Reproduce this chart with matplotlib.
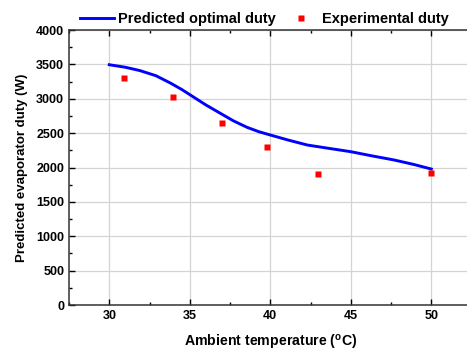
import matplotlib
matplotlib.use('Agg')
import matplotlib.pyplot as plt
import numpy as np

plt.rcParams['font.family'] = ['Liberation Sans', 'DejaVu Sans']
plt.rcParams['font.weight'] = 'bold'

# predicted curve
pred_temp = [30.0, 31.0, 31.9, 32.9, 33.8, 34.5, 35.2, 36.0, 36.9, 37.7, 38.55, 39.3,
             40.0, 41.1, 42.3, 43.6, 45.0, 46.3, 47.7, 48.9, 50.0]
pred_duty = [3495, 3458, 3410, 3335, 3228, 3135, 3030, 2910, 2788, 2680, 2585, 2520,
             2473, 2400, 2327, 2280, 2230, 2170, 2109, 2045, 1978]

# experimental points
exp_temp = [30.9, 33.95, 37.0, 39.8, 42.96, 50.0]
exp_duty = [3302, 3030, 2652, 2294, 1901, 1916]

fig = plt.figure(figsize=(4.67, 3.51), dpi=100)
ax = fig.add_axes([0.1478, 0.131, 0.862, 0.7835])

ax.plot(pred_temp, pred_duty, color='#0000ff', lw=2.1, label='Predicted optimal duty')
ax.plot(exp_temp, exp_duty, 's', color='#ff0000', ms=4.2, mec='none',
        label='Experimental duty')

ax.set_xlim(27.5, 52.5)
ax.set_ylim(0, 4000)
ax.set_xticks([30, 35, 40, 45, 50])
ax.set_xticks(np.arange(27.5, 53, 2.5), minor=True)
ax.set_yticks(np.arange(0, 4001, 500))
ax.set_yticks(np.arange(250, 4000, 500), minor=True)
ax.grid(True, which='major', color='#d4d4d4', lw=0.9)
ax.set_axisbelow(True)
ax.tick_params(which='both', direction='in', top=True, labelsize=9, width=1)
ax.tick_params(which='major', length=4)
ax.tick_params(which='minor', length=2)
for s in ax.spines.values():
    s.set_linewidth(1.1)
    s.set_color('#333333')

ax.set_xlabel('Ambient temperature ($\\mathregular{^o}$C)', fontsize=10.2, fontweight='bold', labelpad=8)
ax.set_ylabel('Predicted evaporator duty (W)', fontsize=9.5, fontweight='bold', labelpad=6)

ax.legend(loc='lower left', bbox_to_anchor=(0.02, 1.005), ncol=2, frameon=False,
          fontsize=10.5, handlelength=2.3, handletextpad=0.3, columnspacing=0.6,
          borderaxespad=0.1, borderpad=0.1)

fig.savefig('out.png', dpi=100)
